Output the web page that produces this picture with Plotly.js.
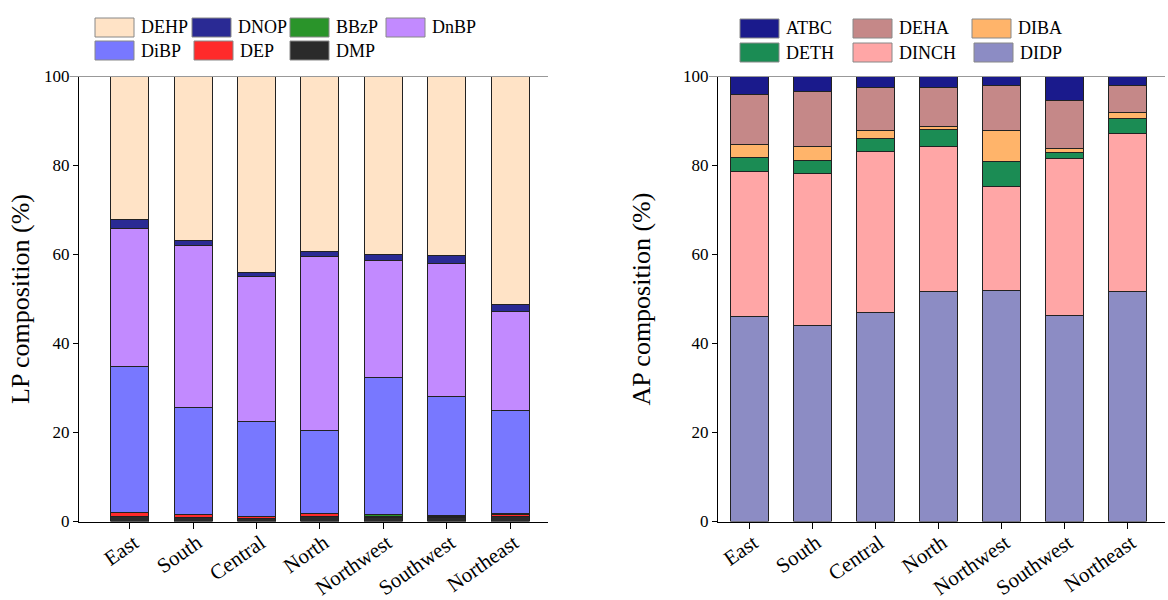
<!DOCTYPE html>
<html>
<head>
<meta charset="utf-8">
<script src="https://cdn.plot.ly/plotly-3.0.1.min.js"></script>
<style>html,body{margin:0;padding:0;background:#fff;}#chart{width:1168px;height:600px;}</style>
</head>
<body>
<div id="chart"></div>
<script>
// Categories
const regions = ["East", "South", "Central", "North", "Northwest", "Southwest", "Northeast"];

// LP composition (%), stacked bottom-up
const DMP  = [1.2, 0.9, 0.6, 1.2, 1.0, 0.8, 1.1];
const DEP  = [0.8, 0.6, 0.5, 0.6, 0.2, 0.4, 0.5];
const BBzP = [0.1, 0.1, 0.1, 0.1, 0.3, 0.1, 0.1];
const DiBP = [32.7, 24.0, 21.3, 18.5, 30.9, 26.8, 23.2];
const DnBP = [31.0, 36.4, 32.6, 39.2, 26.3, 29.9, 22.3];
const DNOP = [2.1, 1.1, 0.9, 1.1, 1.3, 1.8, 1.6];
const DEHP = [32.1, 36.9, 44.0, 39.3, 40.0, 40.2, 51.2];

// AP composition (%), stacked bottom-up
const DIDP  = [46.0, 44.0, 46.9, 51.6, 52.0, 46.2, 51.6];
const DINCH = [32.7, 34.2, 36.2, 32.7, 23.2, 35.4, 35.6];
const DETH  = [3.2, 3.0, 3.0, 3.7, 5.7, 1.4, 3.4];
const DIBA  = [2.8, 3.1, 1.8, 0.8, 7.0, 0.9, 1.3];
const DEHA  = [11.3, 12.3, 9.7, 8.8, 10.0, 10.8, 6.0];
const ATBC  = [4.0, 3.4, 2.4, 2.4, 2.1, 5.3, 2.1];

const yTicks = [0, 20, 40, 60, 80, 100];

const lpSeries = [
  {name: "DMP", y: DMP, color: "#2b2b2b"},
  {name: "DEP", y: DEP, color: "#ff2a2a"},
  {name: "BBzP", y: BBzP, color: "#2a942a"},
  {name: "DiBP", y: DiBP, color: "#7878ff"},
  {name: "DnBP", y: DnBP, color: "#c28aff"},
  {name: "DNOP", y: DNOP, color: "#2a2a94"},
  {name: "DEHP", y: DEHP, color: "#ffe3c6"}
];
const apSeries = [
  {name: "DIDP", y: DIDP, color: "#8c8cc4"},
  {name: "DINCH", y: DINCH, color: "#ffa6a6"},
  {name: "DETH", y: DETH, color: "#1b8c54"},
  {name: "DIBA", y: DIBA, color: "#ffb46a"},
  {name: "DEHA", y: DEHA, color: "#c58888"},
  {name: "ATBC", y: ATBC, color: "#1a1a8c"}
];

const FONT = "Liberation Serif";
const traces = [];
lpSeries.forEach(s => traces.push({
  type: "bar", x: regions, y: s.y, name: s.name, xaxis: "x", yaxis: "y",
  marker: {color: s.color, line: {color: "#222", width: 1}}, width: 0.6, showlegend: false
}));
apSeries.forEach(s => traces.push({
  type: "bar", x: regions, y: s.y, name: s.name, xaxis: "x2", yaxis: "y2",
  marker: {color: s.color, line: {color: "#222", width: 1}}, width: 0.6, showlegend: false
}));

// custom legends (rows as in the reference)
const lpLegend = [["DEHP", "DNOP", "BBzP", "DnBP"], ["DiBP", "DEP", "DMP"]];
const apLegend = [["ATBC", "DEHA", "DIBA"], ["DETH", "DINCH", "DIDP"]];
const lpColors = Object.fromEntries(lpSeries.map(s => [s.name, s.color]));
const apColors = Object.fromEntries(apSeries.map(s => [s.name, s.color]));

const shapes = [];
const annotations = [];
const W = 1168, H = 600;
function addLegend(rows, colors, colX, rowY) {
  rows.forEach((row, ri) => {
    row.forEach((nm, ci) => {
      const x0 = colX[ri][ci], y0 = rowY[ri];
      shapes.push({type: "rect", xref: "paper", yref: "paper",
        x0: x0 / W, x1: (x0 + 39) / W, y0: 1 - (y0 + 19) / H, y1: 1 - y0 / H,
        fillcolor: colors[nm], line: {color: "#888", width: 1}});
      annotations.push({xref: "paper", yref: "paper", x: (x0 + 44) / W, y: 1 - (y0 + 9.5) / H,
        xanchor: "left", yanchor: "middle", text: nm, showarrow: false,
        font: {family: FONT, size: 18, color: "#000"}});
    });
  });
}
addLegend(lpLegend, lpColors, [[95, 192, 290, 386], [95, 194, 290]], [18, 41]);
addLegend(apLegend, apColors, [[740, 853, 972], [740, 853, 974]], [19, 43]);

// light top border lines
[["x domain", "y domain"], ["x2 domain", "y2 domain"]].forEach(([xr, yr]) => {
  shapes.push({type: "line", xref: xr, yref: yr, x0: -0.02, x1: 1, y0: 1, y1: 1,
    line: {color: "#999", width: 1}});
});

const yDom = [1 - 521.5 / H, 1 - 76.5 / H];
const xAxisCommon = {
  type: "category", showline: true, linecolor: "#000", linewidth: 1,
  ticks: "outside", ticklen: 6, tickcolor: "#000", tickangle: -35,
  ticklabelstandoff: -6, ticklabelshift: 4,
  tickfont: {family: FONT, size: 21, color: "#000"}, showgrid: false, zeroline: false
};
const yAxisCommon = {
  range: [0, 100], tickvals: yTicks, showline: true, linecolor: "#000", linewidth: 1,
  ticks: "outside", ticklen: 5, tickcolor: "#000",
  tickfont: {family: FONT, size: 17, color: "#000"}, showgrid: false, zeroline: false,
  domain: yDom
};

const layout = {
  width: W, height: H,
  margin: {l: 0, r: 0, t: 0, b: 0},
  paper_bgcolor: "#fff", plot_bgcolor: "#fff",
  barmode: "stack", bargap: 0.4,
  font: {family: FONT, color: "#000"},
  xaxis: Object.assign({}, xAxisCommon, {domain: [79 / W, 548 / W], range: [-0.805, 6.6], anchor: "y"}),
  yaxis: Object.assign({}, yAxisCommon, {anchor: "x",
    title: {text: "LP composition (%)", font: {family: FONT, size: 26, color: "#000"}, standoff: 6}}),
  xaxis2: Object.assign({}, xAxisCommon, {domain: [718 / W, 1165 / W], range: [-0.5, 6.6], anchor: "y2"}),
  yaxis2: Object.assign({}, yAxisCommon, {anchor: "x2",
    title: {text: "AP composition (%)", font: {family: FONT, size: 26, color: "#000"}, standoff: 24}}),
  shapes: shapes,
  annotations: annotations
};

Plotly.newPlot("chart", traces, layout, {displayModeBar: false, staticPlot: true});
</script>
</body>
</html>
